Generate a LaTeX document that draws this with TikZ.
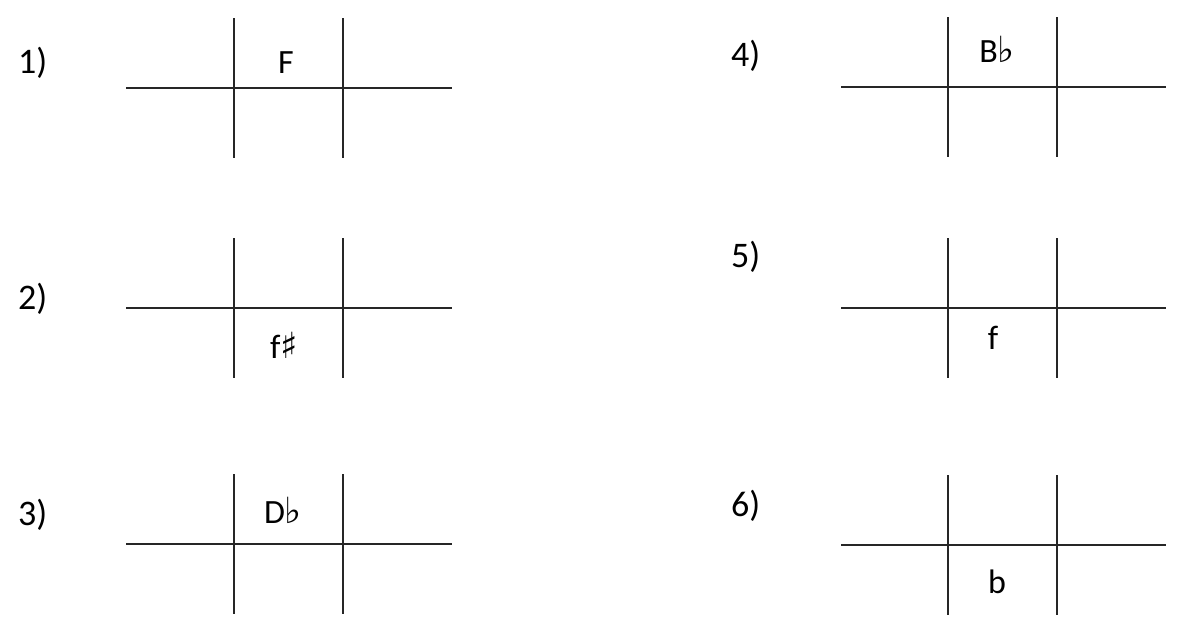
\documentclass[tikz,border=0pt]{standalone}
\usepackage{fontspec}
\setmainfont{Carlito}
\newfontfamily\symfont{DejaVu Sans}
\newcommand{\flt}{{\symfont\fontsize{36}{42}\selectfont ♭}}
\newcommand{\shp}{{\symfont\fontsize{36}{42}\selectfont ♯}}
\tikzset{
  gridline/.style={line width=1.2pt, black!85},
  num/.style={anchor=base west, inner sep=0pt, font=\fontsize{36}{42}\selectfont},
  key/.style={anchor=base, inner sep=0pt, font=\fontsize{34}{40}\selectfont}
}
\begin{document}
\begin{tikzpicture}[x=1pt, y=-1pt]
\useasboundingbox (0,0) rectangle (1181,633);

% Grids, left column
\foreach \h in {88,308,544} {
  \draw[gridline] (126,\h) -- (452,\h);
  \draw[gridline] (234,\h-70) -- (234,\h+70);
  \draw[gridline] (343,\h-70) -- (343,\h+70);
}

% Grids, right column
\foreach \h in {87,308,545} {
  \draw[gridline] (841,\h) -- (1166,\h);
  \draw[gridline] (948,\h-70) -- (948,\h+70);
  \draw[gridline] (1057,\h-70) -- (1057,\h+70);
}

% Numbers
\node[num] (n1) at (18,73) {1)};
\node[num] (n2) at (18,309) {2)};
\node[num] (n3) at (18,525) {3)};
\node[num] (n4) at (731,66) {4)};
\node[num] (n5) at (731,267) {5)};
\node[num] (n6) at (731,516) {6)};

% Keys
\node[key] (k1) at (286,73) {F};
\node[key] (k2) at (284,358) {f\shp};
\node[key] (k3) at (283,523) {D\flt};
\node[key] (k4) at (997,62) {B\flt};
\node[key] (k5) at (993,349) {f};
\node[key] (k6) at (997,593) {b};
\end{tikzpicture}
\end{document}
